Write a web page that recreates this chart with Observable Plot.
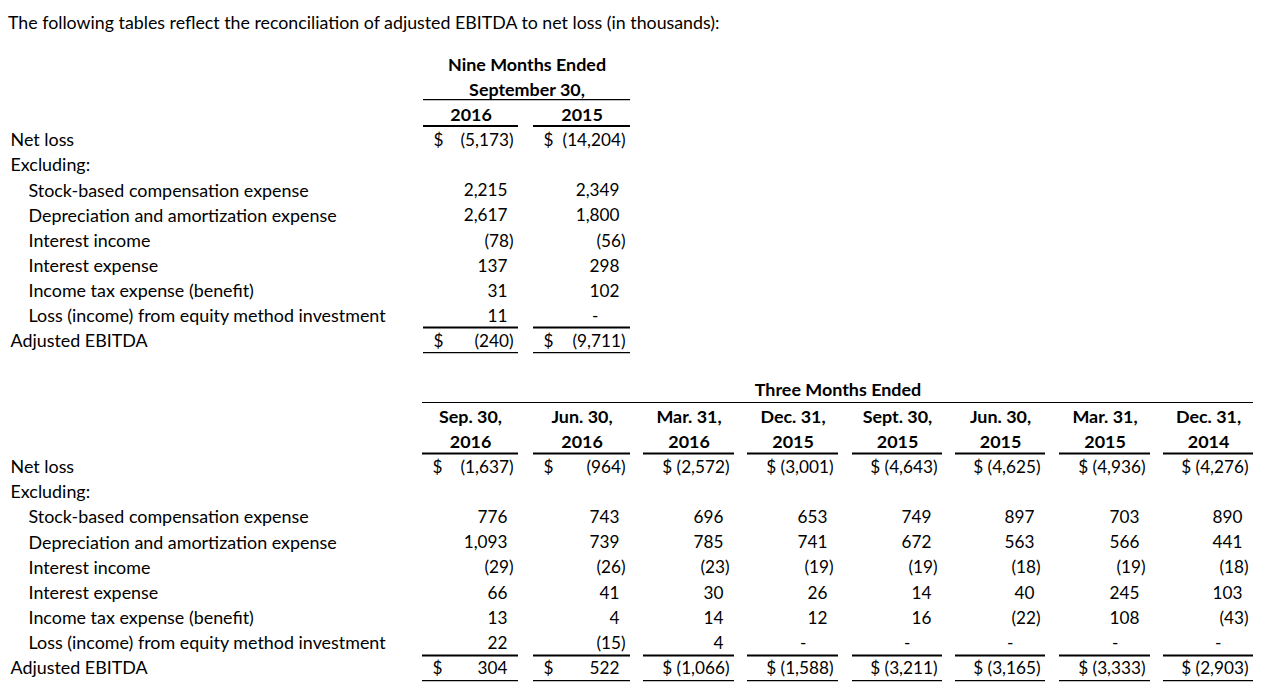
<!DOCTYPE html>
<html>
<head>
<meta charset="utf-8">
<script src="https://cdn.jsdelivr.net/npm/d3@7"></script>
<script src="https://cdn.jsdelivr.net/npm/@observablehq/plot@0.6"></script>
<style>
  body { margin: 0; background: #fff; }
  #title { font-family: Lato, sans-serif; font-size: 17.8px; color: #000; height: 40px; line-height: 44px; padding-left: 8px; white-space: nowrap; }
  #chart svg { display: block; }
</style>
</head>
<body>
<div id="title">The following tables reflect the reconciliation of adjusted EBITDA to net loss (in thousands):</div>
<div id="chart"></div>
<script>
// ---------- DATA ----------
const rowLabels = [
  "Net loss",
  "Excluding:",
  "Stock-based compensation expense",
  "Depreciation and amortization expense",
  "Interest income",
  "Interest expense",
  "Income tax expense (benefit)",
  "Loss (income) from equity method investment",
  "Adjusted EBITDA"
];
const rowIndented = [false, false, true, true, true, true, true, true, false];
const dollarRows = ["Net loss", "Adjusted EBITDA"];

const nineMonthTitle = ["Nine Months Ended", "September 30,"];
const nineMonthYears = ["2016", "2015"];
const nine2016 = [-5173, null, 2215, 2617, -78, 137, 31, 11, -240];
const nine2015 = [-14204, null, 2349, 1800, -56, 298, 102, 0, -9711];

const quarterTitle = "Three Months Ended";
const quarterDates = ["Sep. 30,", "Jun. 30,", "Mar. 31,", "Dec. 31,", "Sept. 30,", "Jun. 30,", "Mar. 31,", "Dec. 31,"];
const quarterYears = ["2016", "2016", "2016", "2015", "2015", "2015", "2015", "2014"];
const qNetLoss        = [-1637, -964, -2572, -3001, -4643, -4625, -4936, -4276];
const qStockComp      = [776, 743, 696, 653, 749, 897, 703, 890];
const qDepreciation   = [1093, 739, 785, 741, 672, 563, 566, 441];
const qInterestIncome = [-29, -26, -23, -19, -19, -18, -19, -18];
const qInterestExpense= [66, 41, 30, 26, 14, 40, 245, 103];
const qIncomeTax      = [13, 4, 14, 12, 16, -22, 108, -43];
const qEquityLoss     = [22, -15, 4, 0, 0, 0, 0, 0];
const qAdjustedEbitda = [304, 522, -1066, -1588, -3211, -3165, -3333, -2903];

// ---------- LAYOUT ----------
const W = 1268, H = 656;
const FONT = "Lato, sans-serif";
const FS_TEXT = 17.9;   // labels and headers
const FS_NUM = 17.2;    // figures
const layout = {
  labelX: 10, indentX: 28,
  nineCols: [[423, 518], [533, 630]],
  quarterCols: [[422, 518], [533, 630], [643, 734], [747, 838], [852, 942], [955, 1045], [1059, 1150], [1163, 1253]],
  separateDollarCols: 2,      // quarter columns whose "$" sits at the left of the cell
  dollarInset: 10, parenInset: 5, digitInset: 11, dashInset: 32,
  nineHeadRow: 0, nineBodyRow: 3, quarterTitleRow: 13, quarterHeadRow: 14, quarterBodyRow: 16
};

const fmtNum = d3.format(",");
function fmtVal(v) {
  if (v == null) return "";
  if (v === 0) return "-";
  return v < 0 ? "(" + fmtNum(-v) + ")" : fmtNum(v);
}
function valueEdge(v, end) {
  if (v === 0) return end - layout.dashInset;
  return v < 0 ? end - layout.parenInset : end - layout.digitInset;
}

const cells = [];   // {x, y, text, anchor, bold, num}
const rules = [];   // {x1, x2, y, w}

function addLabels(startRow) {
  rowLabels.forEach((lab, i) => {
    cells.push({x: rowIndented[i] ? layout.indentX : layout.labelX, y: startRow + i, text: lab, anchor: "start", bold: false, num: false});
  });
}

// Nine months table
const nineSeries = [nine2016, nine2015];
const [n0, n1] = [layout.nineCols[0][0], layout.nineCols[1][1]];
cells.push({x: (n0 + n1) / 2, y: layout.nineHeadRow, text: nineMonthTitle[0], anchor: "middle", bold: true, num: false});
cells.push({x: (n0 + n1) / 2, y: layout.nineHeadRow + 1, text: nineMonthTitle[1], anchor: "middle", bold: true, num: false});
rules.push({x1: n0, x2: n1, y: layout.nineHeadRow + 1.37, w: 1.2});
addLabels(layout.nineBodyRow);
layout.nineCols.forEach(([s, e], c) => {
  cells.push({x: (s + e) / 2, y: layout.nineHeadRow + 2, text: nineMonthYears[c], anchor: "middle", bold: true, num: false});
  rules.push({x1: s, x2: e, y: layout.nineHeadRow + 2.42, w: 2});
  nineSeries[c].forEach((v, i) => {
    if (v == null) return;
    cells.push({x: valueEdge(v, e), y: layout.nineBodyRow + i, text: fmtVal(v), anchor: "end", bold: false, num: true});
    if (dollarRows.includes(rowLabels[i])) cells.push({x: s + layout.dollarInset, y: layout.nineBodyRow + i, text: "$", anchor: "start", bold: false, num: true});
  });
  rules.push({x1: s, x2: e, y: layout.nineBodyRow + 7.44, w: 2});
  rules.push({x1: s, x2: e, y: layout.nineBodyRow + 8.44, w: 1.2});
});

// Three months table
const quarterSeries = [qNetLoss, null, qStockComp, qDepreciation, qInterestIncome, qInterestExpense, qIncomeTax, qEquityLoss, qAdjustedEbitda];
const [q0, q1] = [layout.quarterCols[0][0], layout.quarterCols[layout.quarterCols.length - 1][1]];
cells.push({x: (q0 + q1) / 2, y: layout.quarterTitleRow - 0.08, text: quarterTitle, anchor: "middle", bold: true, num: false});
rules.push({x1: q0, x2: q1, y: layout.quarterTitleRow + 0.42, w: 1.2});
addLabels(layout.quarterBodyRow);
layout.quarterCols.forEach(([s, e], c) => {
  cells.push({x: (s + e) / 2, y: layout.quarterHeadRow, text: quarterDates[c], anchor: "middle", bold: true, num: false});
  cells.push({x: (s + e) / 2, y: layout.quarterHeadRow + 1, text: quarterYears[c], anchor: "middle", bold: true, num: false});
  rules.push({x1: s, x2: e, y: layout.quarterHeadRow + 1.45, w: 2});
  quarterSeries.forEach((series, i) => {
    if (!series) return;
    const v = series[c];
    const isDollar = dollarRows.includes(rowLabels[i]);
    if (isDollar && c >= layout.separateDollarCols) {
      cells.push({x: valueEdge(v, e), y: layout.quarterBodyRow + i, text: "$ " + fmtVal(v), anchor: "end", bold: false, num: true});
    } else {
      cells.push({x: valueEdge(v, e), y: layout.quarterBodyRow + i, text: fmtVal(v), anchor: "end", bold: false, num: true});
      if (isDollar) cells.push({x: s + layout.dollarInset, y: layout.quarterBodyRow + i, text: "$", anchor: "start", bold: false, num: true});
    }
  });
  rules.push({x1: s, x2: e, y: layout.quarterBodyRow + 7.48, w: 2});
  rules.push({x1: s, x2: e, y: layout.quarterBodyRow + 8.48, w: 1.2});
});

// ---------- PLOT ----------
const textMarks = [];
for (const anchor of ["start", "middle", "end"]) {
  for (const bold of [false, true]) {
    for (const num of [false, true]) {
      const sub = cells.filter(d => d.anchor === anchor && d.bold === bold && d.num === num);
      if (sub.length) textMarks.push(Plot.text(sub, {
        x: "x", y: "y", text: "text", textAnchor: anchor,
        fontWeight: bold ? "bold" : "normal", fontSize: num ? FS_NUM : FS_TEXT, fontFamily: FONT, fill: "#000"
      }));
    }
  }
}
const ruleMarks = [1.2, 2].map(w => Plot.ruleY(rules.filter(r => r.w === w), {y: "y", x1: "x1", x2: "x2", stroke: "#000", strokeWidth: w}));

const chart = Plot.plot({
  width: W, height: H,
  marginLeft: 0, marginRight: 0, marginTop: 0, marginBottom: 0,
  style: {fontFamily: FONT, fontSize: FS_TEXT + "px", background: "#fff", color: "#000"},
  x: {type: "linear", domain: [0, W], range: [0, W], axis: null},
  y: {type: "linear", domain: [0, 24], range: [24.6, 628], axis: null},
  marks: [...ruleMarks, ...textMarks]
});
document.getElementById("chart").appendChild(chart);
</script>
</body>
</html>
